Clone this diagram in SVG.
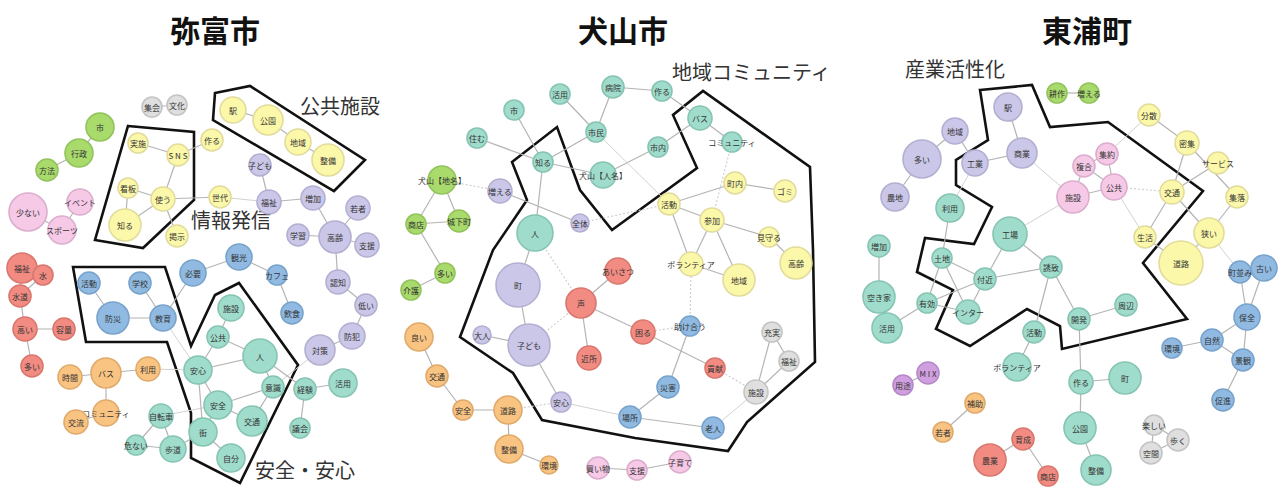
<svg xmlns="http://www.w3.org/2000/svg" width="1283" height="490" viewBox="0 0 1283 490">
<style>
.e{stroke:#b4b4b4;stroke-width:1.2;fill:none}
.f{stroke:#d2d2d2;stroke-width:1;fill:none}
.d{stroke:#cfcfcf;stroke-width:1.2;stroke-dasharray:2 2;fill:none}
.poly{fill:none;stroke:#111;stroke-width:2.6;stroke-linejoin:miter}
circle{stroke-width:1.6}
.y{fill:#fcf8a9;stroke:#e2dc9c}
.p{fill:#cbc7e8;stroke:#b3afd2}
.g{fill:#a9da6c;stroke:#93c35c}
.k{fill:#f6c9e7;stroke:#dcaecd}
.r{fill:#f28c82;stroke:#d9776e}
.b{fill:#90bae2;stroke:#78a3cc}
.o{fill:#f9c382;stroke:#e0aa6c}
.t{fill:#a0dccb;stroke:#86c4b3}
.gr{fill:#dfdfdf;stroke:#c4c4c4}
.v{fill:#d09fe0;stroke:#b789c8}
text{font-family:"Noto Sans CJK JP","Noto Sans",sans-serif}
.l{font-size:8px;fill:#333;text-anchor:middle;dominant-baseline:central}
.title{font-size:30px;font-weight:bold;fill:#111;text-anchor:middle}
.cap{font-size:20px;fill:#333}
</style>
<rect width="1283" height="490" fill="#fff"/>
<g id="titles">
<text class="title" x="215" y="42">弥富市</text>
<text class="title" x="623" y="42">犬山市</text>
<text class="title" x="1087" y="42">東浦町</text>
</g>
<g id="captions">
<text class="cap" x="300" y="114">公共施設</text>
<text class="cap" x="191" y="228">情報発信</text>
<text class="cap" x="255" y="478">安全・安心</text>
<text class="cap" x="672" y="80">地域コミュニティ</text>
<text class="cap" x="905" y="77">産業活性化</text>
</g>
<g id="regions">
<polygon class="poly" points="128,126 194,132 194,200 143,248 95,240"/>
<polygon class="poly" points="215,93 250,86 365,160 334,191 213,120"/>
<polygon class="poly" points="73,267 165,267 191,346 215,295 239,283 298,365 240,483 191,458 191,413 167,342 86,342"/>
<polygon class="poly" points="512,162 557,127 580,190 612,230 697,168 673,115 703,91 810,167 813,250 815,362 747,422 728,451 635,438 542,420 513,373 460,337 493,250 527,200"/>
<polygon class="poly" points="980,90 1032,85 1050,127 1108,122 1203,191 1143,263 1187,319 1062,349 1060,326 1027,309 970,346 936,329 953,290 917,272 925,238 974,244 992,207 956,185 956,160 988,140"/>
</g>
<g id="connectors">
<line class="e" x1="152" y1="107" x2="177" y2="105"/>
<line class="e" x1="100" y1="127" x2="79" y2="153"/>
<line class="e" x1="79" y1="153" x2="47" y2="170"/>
<line class="e" x1="28" y1="212" x2="62" y2="230"/>
<line class="e" x1="80" y1="202" x2="62" y2="230"/>
<line class="e" x1="138" y1="143" x2="178" y2="155"/>
<line class="e" x1="178" y1="155" x2="212" y2="140"/>
<line class="e" x1="178" y1="155" x2="163" y2="199"/>
<line class="e" x1="128" y1="188" x2="163" y2="199"/>
<line class="e" x1="128" y1="188" x2="125" y2="225"/>
<line class="e" x1="163" y1="199" x2="125" y2="225"/>
<line class="e" x1="163" y1="199" x2="177" y2="236"/>
<line class="e" x1="163" y1="199" x2="220" y2="197"/>
<line class="e" x1="233" y1="110" x2="268" y2="120"/>
<line class="e" x1="268" y1="120" x2="298" y2="142"/>
<line class="e" x1="298" y1="142" x2="328" y2="160"/>
<line class="e" x1="260" y1="165" x2="269" y2="202"/>
<line class="f" x1="220" y1="197" x2="269" y2="202"/>
<line class="e" x1="269" y1="202" x2="313" y2="198"/>
<line class="e" x1="313" y1="198" x2="335" y2="237"/>
<line class="e" x1="358" y1="208" x2="335" y2="237"/>
<line class="e" x1="298" y1="235" x2="335" y2="237"/>
<line class="e" x1="335" y1="237" x2="367" y2="245"/>
<line class="e" x1="335" y1="237" x2="338" y2="282"/>
<line class="e" x1="338" y1="282" x2="366" y2="305"/>
<line class="e" x1="366" y1="305" x2="352" y2="336"/>
<line class="e" x1="352" y1="336" x2="320" y2="350"/>
<line class="f" x1="320" y1="350" x2="273" y2="387"/>
<line class="e" x1="22" y1="268" x2="43" y2="275"/>
<line class="e" x1="43" y1="275" x2="20" y2="296"/>
<line class="e" x1="22" y1="268" x2="20" y2="296"/>
<line class="e" x1="20" y1="296" x2="25" y2="329"/>
<line class="e" x1="25" y1="329" x2="64" y2="329"/>
<line class="e" x1="25" y1="329" x2="32" y2="366"/>
<line class="e" x1="89" y1="283" x2="113" y2="318"/>
<line class="e" x1="140" y1="283" x2="163" y2="318"/>
<line class="e" x1="113" y1="318" x2="163" y2="318"/>
<line class="e" x1="163" y1="318" x2="193" y2="273"/>
<line class="e" x1="193" y1="273" x2="239" y2="257"/>
<line class="e" x1="239" y1="257" x2="277" y2="275"/>
<line class="e" x1="277" y1="275" x2="292" y2="313"/>
<line class="f" x1="163" y1="318" x2="198" y2="370"/>
<line class="e" x1="70" y1="377" x2="106" y2="373"/>
<line class="e" x1="106" y1="373" x2="148" y2="369"/>
<line class="e" x1="106" y1="373" x2="106" y2="413"/>
<line class="e" x1="106" y1="413" x2="76" y2="422"/>
<line class="f" x1="148" y1="369" x2="198" y2="370"/>
<line class="e" x1="161" y1="416" x2="136" y2="445"/>
<line class="e" x1="161" y1="416" x2="173" y2="449"/>
<line class="e" x1="136" y1="445" x2="173" y2="449"/>
<line class="f" x1="161" y1="416" x2="218" y2="405"/>
<line class="e" x1="173" y1="449" x2="203" y2="432"/>
<line class="e" x1="198" y1="370" x2="218" y2="337"/>
<line class="e" x1="231" y1="308" x2="218" y2="337"/>
<line class="e" x1="218" y1="337" x2="260" y2="356"/>
<line class="e" x1="198" y1="370" x2="260" y2="356"/>
<line class="e" x1="198" y1="370" x2="218" y2="405"/>
<line class="e" x1="198" y1="370" x2="203" y2="432"/>
<line class="e" x1="218" y1="405" x2="203" y2="432"/>
<line class="e" x1="203" y1="432" x2="231" y2="458"/>
<line class="e" x1="218" y1="405" x2="252" y2="421"/>
<line class="e" x1="218" y1="405" x2="273" y2="387"/>
<line class="e" x1="260" y1="356" x2="273" y2="387"/>
<line class="e" x1="273" y1="387" x2="252" y2="421"/>
<line class="e" x1="260" y1="356" x2="305" y2="389"/>
<line class="e" x1="305" y1="389" x2="343" y2="383"/>
<line class="e" x1="305" y1="389" x2="300" y2="428"/>
<line class="e" x1="560" y1="94" x2="596" y2="132"/>
<line class="e" x1="613" y1="87" x2="596" y2="132"/>
<line class="e" x1="613" y1="87" x2="662" y2="91"/>
<line class="e" x1="662" y1="91" x2="700" y2="118"/>
<line class="e" x1="700" y1="118" x2="658" y2="147"/>
<line class="e" x1="700" y1="118" x2="732" y2="142"/>
<line class="e" x1="658" y1="147" x2="603" y2="175"/>
<line class="e" x1="596" y1="132" x2="543" y2="162"/>
<line class="e" x1="514" y1="110" x2="543" y2="162"/>
<line class="e" x1="477" y1="138" x2="543" y2="162"/>
<line class="e" x1="543" y1="162" x2="603" y2="175"/>
<line class="e" x1="543" y1="162" x2="535" y2="233"/>
<line class="f" x1="596" y1="132" x2="669" y2="204"/>
<line class="d" x1="732" y1="142" x2="712" y2="220"/>
<line class="e" x1="735" y1="183" x2="785" y2="191"/>
<line class="e" x1="735" y1="183" x2="669" y2="204"/>
<line class="e" x1="669" y1="204" x2="712" y2="220"/>
<line class="e" x1="712" y1="220" x2="769" y2="237"/>
<line class="e" x1="769" y1="237" x2="796" y2="263"/>
<line class="e" x1="669" y1="204" x2="691" y2="264"/>
<line class="e" x1="712" y1="220" x2="691" y2="264"/>
<line class="e" x1="712" y1="220" x2="739" y2="280"/>
<line class="e" x1="691" y1="264" x2="739" y2="280"/>
<line class="d" x1="691" y1="264" x2="690" y2="326"/>
<line class="d" x1="442" y1="180" x2="500" y2="191"/>
<line class="e" x1="442" y1="180" x2="459" y2="221"/>
<line class="e" x1="442" y1="180" x2="416" y2="224"/>
<line class="e" x1="416" y1="224" x2="459" y2="221"/>
<line class="e" x1="416" y1="224" x2="445" y2="273"/>
<line class="e" x1="445" y1="273" x2="411" y2="290"/>
<line class="e" x1="500" y1="191" x2="580" y2="223"/>
<line class="d" x1="580" y1="223" x2="669" y2="204"/>
<line class="e" x1="535" y1="233" x2="518" y2="285"/>
<line class="e" x1="518" y1="285" x2="529" y2="345"/>
<line class="e" x1="482" y1="335" x2="529" y2="345"/>
<line class="e" x1="529" y1="345" x2="561" y2="402"/>
<line class="d" x1="529" y1="345" x2="581" y2="303"/>
<line class="d" x1="535" y1="233" x2="581" y2="303"/>
<line class="e" x1="618" y1="271" x2="581" y2="303"/>
<line class="e" x1="581" y1="303" x2="589" y2="358"/>
<line class="e" x1="581" y1="303" x2="643" y2="332"/>
<line class="e" x1="643" y1="332" x2="715" y2="368"/>
<line class="d" x1="643" y1="332" x2="690" y2="326"/>
<line class="d" x1="715" y1="368" x2="756" y2="392"/>
<line class="e" x1="690" y1="326" x2="668" y2="387"/>
<line class="e" x1="668" y1="387" x2="630" y2="417"/>
<line class="e" x1="630" y1="417" x2="713" y2="428"/>
<line class="f" x1="713" y1="428" x2="756" y2="392"/>
<line class="e" x1="756" y1="392" x2="772" y2="332"/>
<line class="e" x1="772" y1="332" x2="789" y2="361"/>
<line class="e" x1="789" y1="361" x2="756" y2="392"/>
<line class="f" x1="561" y1="402" x2="630" y2="417"/>
<line class="e" x1="419" y1="337" x2="437" y2="376"/>
<line class="e" x1="437" y1="376" x2="463" y2="410"/>
<line class="e" x1="463" y1="410" x2="508" y2="410"/>
<line class="e" x1="508" y1="410" x2="509" y2="449"/>
<line class="e" x1="509" y1="449" x2="549" y2="465"/>
<line class="d" x1="508" y1="410" x2="561" y2="402"/>
<line class="e" x1="598" y1="468" x2="637" y2="470"/>
<line class="e" x1="637" y1="470" x2="680" y2="462"/>
<line class="e" x1="1057" y1="93" x2="1089" y2="93"/>
<line class="e" x1="1008" y1="107" x2="1022" y2="153"/>
<line class="e" x1="1022" y1="153" x2="975" y2="163"/>
<line class="e" x1="955" y1="131" x2="975" y2="163"/>
<line class="e" x1="955" y1="131" x2="922" y2="159"/>
<line class="e" x1="922" y1="159" x2="895" y2="197"/>
<line class="f" x1="975" y1="163" x2="950" y2="208"/>
<line class="e" x1="950" y1="208" x2="942" y2="258"/>
<line class="f" x1="1022" y1="153" x2="1073" y2="197"/>
<line class="f" x1="1010" y1="234" x2="1073" y2="197"/>
<line class="e" x1="1073" y1="197" x2="1084" y2="166"/>
<line class="e" x1="1073" y1="197" x2="1114" y2="187"/>
<line class="e" x1="1084" y1="166" x2="1107" y2="154"/>
<line class="e" x1="1107" y1="154" x2="1114" y2="187"/>
<line class="e" x1="1084" y1="166" x2="1114" y2="187"/>
<line class="f" x1="1149" y1="115" x2="1107" y2="154"/>
<line class="e" x1="1149" y1="115" x2="1187" y2="143"/>
<line class="e" x1="1187" y1="143" x2="1172" y2="192"/>
<line class="e" x1="1187" y1="143" x2="1237" y2="197"/>
<line class="e" x1="1218" y1="163" x2="1172" y2="192"/>
<line class="d" x1="1114" y1="187" x2="1172" y2="192"/>
<line class="f" x1="1114" y1="187" x2="1145" y2="237"/>
<line class="e" x1="1172" y1="192" x2="1145" y2="237"/>
<line class="e" x1="1172" y1="192" x2="1209" y2="233"/>
<line class="e" x1="1237" y1="197" x2="1209" y2="233"/>
<line class="e" x1="1209" y1="233" x2="1181" y2="263"/>
<line class="e" x1="1145" y1="237" x2="1181" y2="263"/>
<line class="f" x1="1209" y1="233" x2="1240" y2="272"/>
<line class="e" x1="1010" y1="234" x2="985" y2="279"/>
<line class="e" x1="1010" y1="234" x2="1051" y2="267"/>
<line class="e" x1="1051" y1="267" x2="985" y2="279"/>
<line class="e" x1="985" y1="279" x2="942" y2="258"/>
<line class="e" x1="985" y1="279" x2="968" y2="312"/>
<line class="e" x1="985" y1="279" x2="927" y2="303"/>
<line class="e" x1="942" y1="258" x2="927" y2="303"/>
<line class="e" x1="942" y1="258" x2="968" y2="312"/>
<line class="e" x1="927" y1="303" x2="968" y2="312"/>
<line class="e" x1="927" y1="303" x2="887" y2="328"/>
<line class="e" x1="879" y1="246" x2="879" y2="297"/>
<line class="e" x1="1051" y1="267" x2="1034" y2="332"/>
<line class="e" x1="1051" y1="267" x2="1079" y2="319"/>
<line class="e" x1="1034" y1="332" x2="1017" y2="367"/>
<line class="e" x1="1079" y1="319" x2="1126" y2="305"/>
<line class="e" x1="1079" y1="319" x2="1081" y2="382"/>
<line class="e" x1="1081" y1="382" x2="1125" y2="378"/>
<line class="e" x1="1081" y1="382" x2="1080" y2="428"/>
<line class="e" x1="1080" y1="428" x2="1096" y2="470"/>
<line class="e" x1="1240" y1="272" x2="1247" y2="317"/>
<line class="e" x1="1264" y1="268" x2="1247" y2="317"/>
<line class="e" x1="1247" y1="317" x2="1212" y2="340"/>
<line class="e" x1="1247" y1="317" x2="1243" y2="360"/>
<line class="e" x1="1212" y1="340" x2="1243" y2="360"/>
<line class="e" x1="1212" y1="340" x2="1172" y2="348"/>
<line class="e" x1="1243" y1="360" x2="1223" y2="400"/>
<line class="e" x1="1154" y1="425" x2="1178" y2="440"/>
<line class="e" x1="1154" y1="425" x2="1151" y2="453"/>
<line class="e" x1="1151" y1="453" x2="1178" y2="440"/>
<line class="e" x1="928" y1="373" x2="903" y2="385"/>
<line class="e" x1="975" y1="403" x2="943" y2="432"/>
<line class="e" x1="1023" y1="439" x2="990" y2="460"/>
<line class="e" x1="1023" y1="439" x2="1048" y2="476"/>
</g>
<g id="nodes-yatomi">
<g id="a-shukai"><circle class="gr" cx="152" cy="107" r="10"/><text class="l" x="152" y="107">集会</text></g>
<g id="a-bunka"><circle class="gr" cx="177" cy="105" r="10"/><text class="l" x="177" y="105">文化</text></g>
<g id="a-shi"><circle class="g" cx="100" cy="127" r="14"/><text class="l" x="100" y="127">市</text></g>
<g id="a-gyosei"><circle class="g" cx="79" cy="153" r="14"/><text class="l" x="79" y="153">行政</text></g>
<g id="a-hoho"><circle class="g" cx="47" cy="170" r="11"/><text class="l" x="47" y="170">方法</text></g>
<g id="a-sukunai"><circle class="k" cx="28" cy="212" r="19"/><text class="l" x="28" y="212">少ない</text></g>
<g id="a-event"><circle class="k" cx="80" cy="202" r="13"/><text class="l" x="80" y="202">イベント</text></g>
<g id="a-sports"><circle class="k" cx="62" cy="230" r="14"/><text class="l" x="62" y="230">スポーツ</text></g>
<g id="a-jisshi"><circle class="y" cx="138" cy="143" r="10"/><text class="l" x="138" y="143">実施</text></g>
<g id="a-sns"><circle class="y" cx="178" cy="155" r="11"/><text class="l" x="178" y="155">S N S</text></g>
<g id="a-kanban"><circle class="y" cx="128" cy="188" r="10"/><text class="l" x="128" y="188">看板</text></g>
<g id="a-tsukau"><circle class="y" cx="163" cy="199" r="12"/><text class="l" x="163" y="199">使う</text></g>
<g id="a-shiru"><circle class="y" cx="125" cy="225" r="16"/><text class="l" x="125" y="225">知る</text></g>
<g id="a-keiji"><circle class="y" cx="177" cy="236" r="11"/><text class="l" x="177" y="236">掲示</text></g>
<g id="a-tsukuru"><circle class="y" cx="212" cy="140" r="11"/><text class="l" x="212" y="140">作る</text></g>
<g id="a-eki"><circle class="y" cx="233" cy="110" r="13"/><text class="l" x="233" y="110">駅</text></g>
<g id="a-koen"><circle class="y" cx="268" cy="120" r="15"/><text class="l" x="268" y="120">公園</text></g>
<g id="a-chiiki"><circle class="y" cx="298" cy="142" r="13"/><text class="l" x="298" y="142">地域</text></g>
<g id="a-seibi"><circle class="y" cx="328" cy="160" r="16"/><text class="l" x="328" y="160">整備</text></g>
<g id="a-sedai"><circle class="y" cx="220" cy="197" r="11"/><text class="l" x="220" y="197">世代</text></g>
<g id="a-kodomo"><circle class="p" cx="260" cy="165" r="11"/><text class="l" x="260" y="165">子ども</text></g>
<g id="a-fukushi"><circle class="p" cx="269" cy="202" r="12"/><text class="l" x="269" y="202">福祉</text></g>
<g id="a-zouka"><circle class="p" cx="313" cy="198" r="12"/><text class="l" x="313" y="198">増加</text></g>
<g id="a-wakamono"><circle class="p" cx="358" cy="208" r="12"/><text class="l" x="358" y="208">若者</text></g>
<g id="a-gakushu"><circle class="p" cx="298" cy="235" r="11"/><text class="l" x="298" y="235">学習</text></g>
<g id="a-korei"><circle class="p" cx="335" cy="237" r="16"/><text class="l" x="335" y="237">高齢</text></g>
<g id="a-shien"><circle class="p" cx="367" cy="245" r="12"/><text class="l" x="367" y="245">支援</text></g>
<g id="a-ninchi"><circle class="p" cx="338" cy="282" r="12"/><text class="l" x="338" y="282">認知</text></g>
<g id="a-hikui"><circle class="p" cx="366" cy="305" r="11"/><text class="l" x="366" y="305">低い</text></g>
<g id="a-bohan"><circle class="p" cx="352" cy="336" r="13"/><text class="l" x="352" y="336">防犯</text></g>
<g id="a-taisaku"><circle class="p" cx="320" cy="350" r="15"/><text class="l" x="320" y="350">対策</text></g>
<g id="a-fukushi2"><circle class="r" cx="22" cy="268" r="15"/><text class="l" x="22" y="268">福祉</text></g>
<g id="a-mizu"><circle class="r" cx="43" cy="275" r="10"/><text class="l" x="43" y="275">水</text></g>
<g id="a-suido"><circle class="r" cx="20" cy="296" r="11"/><text class="l" x="20" y="296">水道</text></g>
<g id="a-takai"><circle class="r" cx="25" cy="329" r="12"/><text class="l" x="25" y="329">高い</text></g>
<g id="a-yoryo"><circle class="r" cx="64" cy="329" r="11"/><text class="l" x="64" y="329">容量</text></g>
<g id="a-oi"><circle class="r" cx="32" cy="366" r="11"/><text class="l" x="32" y="366">多い</text></g>
<g id="a-katsudo"><circle class="b" cx="89" cy="283" r="11"/><text class="l" x="89" y="283">活動</text></g>
<g id="a-gakko"><circle class="b" cx="140" cy="283" r="11"/><text class="l" x="140" y="283">学校</text></g>
<g id="a-bosai"><circle class="b" cx="113" cy="318" r="16"/><text class="l" x="113" y="318">防災</text></g>
<g id="a-kyoiku"><circle class="b" cx="163" cy="318" r="13"/><text class="l" x="163" y="318">教育</text></g>
<g id="a-hitsuyo"><circle class="b" cx="193" cy="273" r="13"/><text class="l" x="193" y="273">必要</text></g>
<g id="a-kanko"><circle class="b" cx="239" cy="257" r="13"/><text class="l" x="239" y="257">観光</text></g>
<g id="a-cafe"><circle class="b" cx="277" cy="275" r="10"/><text class="l" x="277" y="275">カフェ</text></g>
<g id="a-inshoku"><circle class="b" cx="292" cy="313" r="11"/><text class="l" x="292" y="313">飲食</text></g>
<g id="a-jikan"><circle class="o" cx="70" cy="377" r="12"/><text class="l" x="70" y="377">時間</text></g>
<g id="a-bus"><circle class="o" cx="106" cy="373" r="15"/><text class="l" x="106" y="373">バス</text></g>
<g id="a-riyo"><circle class="o" cx="148" cy="369" r="12"/><text class="l" x="148" y="369">利用</text></g>
<g id="a-comm"><circle class="o" cx="106" cy="413" r="13"/><text class="l" x="106" y="413">コミュニティ</text></g>
<g id="a-koryu"><circle class="o" cx="76" cy="422" r="12"/><text class="l" x="76" y="422">交流</text></g>
<g id="a-anshin"><circle class="t" cx="198" cy="370" r="14"/><text class="l" x="198" y="370">安心</text></g>
<g id="a-jitensha"><circle class="t" cx="161" cy="416" r="12"/><text class="l" x="161" y="416">自転車</text></g>
<g id="a-abunai"><circle class="t" cx="136" cy="445" r="10"/><text class="l" x="136" y="445">危ない</text></g>
<g id="a-hodo"><circle class="t" cx="173" cy="449" r="13"/><text class="l" x="173" y="449">歩道</text></g>
<g id="a-machi"><circle class="t" cx="203" cy="432" r="14"/><text class="l" x="203" y="432">街</text></g>
<g id="a-shisetsu"><circle class="t" cx="231" cy="308" r="13"/><text class="l" x="231" y="308">施設</text></g>
<g id="a-kokyo"><circle class="t" cx="218" cy="337" r="11"/><text class="l" x="218" y="337">公共</text></g>
<g id="a-hito"><circle class="t" cx="260" cy="356" r="17"/><text class="l" x="260" y="356">人</text></g>
<g id="a-ishiki"><circle class="t" cx="273" cy="387" r="11"/><text class="l" x="273" y="387">意識</text></g>
<g id="a-keiken"><circle class="t" cx="305" cy="389" r="11"/><text class="l" x="305" y="389">経験</text></g>
<g id="a-katsuyo"><circle class="t" cx="343" cy="383" r="14"/><text class="l" x="343" y="383">活用</text></g>
<g id="a-gikai"><circle class="t" cx="300" cy="428" r="10"/><text class="l" x="300" y="428">議会</text></g>
<g id="a-anzen"><circle class="t" cx="218" cy="405" r="14"/><text class="l" x="218" y="405">安全</text></g>
<g id="a-kotsu"><circle class="t" cx="252" cy="421" r="15"/><text class="l" x="252" y="421">交通</text></g>
<g id="a-jibun"><circle class="t" cx="231" cy="458" r="14"/><text class="l" x="231" y="458">自分</text></g>
</g>
<g id="nodes-inuyama">
<g id="b-katsuyo"><circle class="t" cx="560" cy="94" r="10"/><text class="l" x="560" y="94">活用</text></g>
<g id="b-byoin"><circle class="t" cx="613" cy="87" r="11"/><text class="l" x="613" y="87">病院</text></g>
<g id="b-tsukuru"><circle class="t" cx="662" cy="91" r="10"/><text class="l" x="662" y="91">作る</text></g>
<g id="b-shi"><circle class="t" cx="514" cy="110" r="10"/><text class="l" x="514" y="110">市</text></g>
<g id="b-sumu"><circle class="t" cx="477" cy="138" r="10"/><text class="l" x="477" y="138">住む</text></g>
<g id="b-shimin"><circle class="t" cx="596" cy="132" r="10"/><text class="l" x="596" y="132">市民</text></g>
<g id="b-shiru"><circle class="t" cx="543" cy="162" r="10"/><text class="l" x="543" y="162">知る</text></g>
<g id="b-jinmei"><circle class="t" cx="603" cy="175" r="13"/><text class="l" x="603" y="175">犬山【人名】</text></g>
<g id="b-bus"><circle class="t" cx="700" cy="118" r="12"/><text class="l" x="700" y="118">バス</text></g>
<g id="b-shinai"><circle class="t" cx="658" cy="147" r="10"/><text class="l" x="658" y="147">市内</text></g>
<g id="b-comm"><circle class="t" cx="732" cy="142" r="10"/><text class="l" x="732" y="142">コミュニティ</text></g>
<g id="b-chimei"><circle class="g" cx="442" cy="180" r="14"/><text class="l" x="442" y="180">犬山【地名】</text></g>
<g id="b-fueru"><circle class="p" cx="500" cy="191" r="12"/><text class="l" x="500" y="191">増える</text></g>
<g id="b-jokamachi"><circle class="g" cx="459" cy="221" r="11"/><text class="l" x="459" y="221">城下町</text></g>
<g id="b-shoten"><circle class="g" cx="416" cy="224" r="10"/><text class="l" x="416" y="224">商店</text></g>
<g id="b-oi"><circle class="g" cx="445" cy="273" r="10"/><text class="l" x="445" y="273">多い</text></g>
<g id="b-kaigo"><circle class="g" cx="411" cy="290" r="10"/><text class="l" x="411" y="290">介護</text></g>
<g id="b-zentai"><circle class="p" cx="580" cy="223" r="9"/><text class="l" x="580" y="223">全体</text></g>
<g id="b-hito"><circle class="t" cx="535" cy="233" r="18"/><text class="l" x="535" y="233">人</text></g>
<g id="b-chonai"><circle class="y" cx="735" cy="183" r="11"/><text class="l" x="735" y="183">町内</text></g>
<g id="b-gomi"><circle class="y" cx="785" cy="191" r="11"/><text class="l" x="785" y="191">ゴミ</text></g>
<g id="b-katsudo"><circle class="y" cx="669" cy="204" r="11"/><text class="l" x="669" y="204">活動</text></g>
<g id="b-sanka"><circle class="y" cx="712" cy="220" r="12"/><text class="l" x="712" y="220">参加</text></g>
<g id="b-mimamoru"><circle class="y" cx="769" cy="237" r="10"/><text class="l" x="769" y="237">見守る</text></g>
<g id="b-korei"><circle class="y" cx="796" cy="263" r="16"/><text class="l" x="796" y="263">高齢</text></g>
<g id="b-volunteer"><circle class="y" cx="691" cy="264" r="12"/><text class="l" x="691" y="264">ボランティア</text></g>
<g id="b-chiiki"><circle class="y" cx="739" cy="280" r="16"/><text class="l" x="739" y="280">地域</text></g>
<g id="b-machi"><circle class="p" cx="518" cy="285" r="22"/><text class="l" x="518" y="285">町</text></g>
<g id="b-aisatsu"><circle class="r" cx="618" cy="271" r="13"/><text class="l" x="618" y="271">あいさつ</text></g>
<g id="b-koe"><circle class="r" cx="581" cy="303" r="15"/><text class="l" x="581" y="303">声</text></g>
<g id="b-otona"><circle class="p" cx="482" cy="335" r="9"/><text class="l" x="482" y="335">大人</text></g>
<g id="b-kodomo"><circle class="p" cx="529" cy="345" r="21"/><text class="l" x="529" y="345">子ども</text></g>
<g id="b-kinjo"><circle class="r" cx="589" cy="358" r="12"/><text class="l" x="589" y="358">近所</text></g>
<g id="b-komaru"><circle class="r" cx="643" cy="332" r="12"/><text class="l" x="643" y="332">困る</text></g>
<g id="b-tasukeau"><circle class="b" cx="690" cy="326" r="10"/><text class="l" x="690" y="326">助け合う</text></g>
<g id="b-koken"><circle class="r" cx="715" cy="368" r="10"/><text class="l" x="715" y="368">貢献</text></g>
<g id="b-juujitsu"><circle class="gr" cx="772" cy="332" r="10"/><text class="l" x="772" y="332">充実</text></g>
<g id="b-fukushi"><circle class="gr" cx="789" cy="361" r="10"/><text class="l" x="789" y="361">福祉</text></g>
<g id="b-shisetsu"><circle class="gr" cx="756" cy="392" r="12"/><text class="l" x="756" y="392">施設</text></g>
<g id="b-saigai"><circle class="b" cx="668" cy="387" r="11"/><text class="l" x="668" y="387">災害</text></g>
<g id="b-basho"><circle class="b" cx="630" cy="417" r="11"/><text class="l" x="630" y="417">場所</text></g>
<g id="b-rojin"><circle class="b" cx="713" cy="428" r="11"/><text class="l" x="713" y="428">老人</text></g>
<g id="b-yoi"><circle class="o" cx="419" cy="337" r="14"/><text class="l" x="419" y="337">良い</text></g>
<g id="b-kotsu"><circle class="o" cx="437" cy="376" r="11"/><text class="l" x="437" y="376">交通</text></g>
<g id="b-anzen"><circle class="o" cx="463" cy="410" r="10"/><text class="l" x="463" y="410">安全</text></g>
<g id="b-doro"><circle class="o" cx="508" cy="410" r="14"/><text class="l" x="508" y="410">道路</text></g>
<g id="b-anshin"><circle class="p" cx="561" cy="402" r="10"/><text class="l" x="561" y="402">安心</text></g>
<g id="b-seibi"><circle class="o" cx="509" cy="449" r="14"/><text class="l" x="509" y="449">整備</text></g>
<g id="b-kankyo"><circle class="o" cx="549" cy="465" r="9"/><text class="l" x="549" y="465">環境</text></g>
<g id="b-kaimono"><circle class="k" cx="598" cy="468" r="11"/><text class="l" x="598" y="468">買い物</text></g>
<g id="b-shien"><circle class="k" cx="637" cy="470" r="10"/><text class="l" x="637" y="470">支援</text></g>
<g id="b-kosodate"><circle class="k" cx="680" cy="462" r="11"/><text class="l" x="680" y="462">子育て</text></g>
</g>
<g id="nodes-higashiura">
<g id="c-kosaku"><circle class="g" cx="1057" cy="93" r="10"/><text class="l" x="1057" y="93">耕作</text></g>
<g id="c-fueru"><circle class="g" cx="1089" cy="93" r="10"/><text class="l" x="1089" y="93">増える</text></g>
<g id="c-eki"><circle class="p" cx="1008" cy="107" r="14"/><text class="l" x="1008" y="107">駅</text></g>
<g id="c-chiiki"><circle class="p" cx="955" cy="131" r="13"/><text class="l" x="955" y="131">地域</text></g>
<g id="c-shogyo"><circle class="p" cx="1022" cy="153" r="15"/><text class="l" x="1022" y="153">商業</text></g>
<g id="c-oi"><circle class="p" cx="922" cy="159" r="19"/><text class="l" x="922" y="159">多い</text></g>
<g id="c-kogyo"><circle class="p" cx="975" cy="163" r="13"/><text class="l" x="975" y="163">工業</text></g>
<g id="c-nochi"><circle class="p" cx="895" cy="197" r="14"/><text class="l" x="895" y="197">農地</text></g>
<g id="c-riyo"><circle class="t" cx="950" cy="208" r="14"/><text class="l" x="950" y="208">利用</text></g>
<g id="c-kojo"><circle class="t" cx="1010" cy="234" r="17"/><text class="l" x="1010" y="234">工場</text></g>
<g id="c-zouka"><circle class="t" cx="879" cy="246" r="11"/><text class="l" x="879" y="246">増加</text></g>
<g id="c-bunsan"><circle class="y" cx="1149" cy="115" r="11"/><text class="l" x="1149" y="115">分散</text></g>
<g id="c-misshu"><circle class="y" cx="1187" cy="143" r="12"/><text class="l" x="1187" y="143">密集</text></g>
<g id="c-shuyaku"><circle class="k" cx="1107" cy="154" r="11"/><text class="l" x="1107" y="154">集約</text></g>
<g id="c-fukugo"><circle class="k" cx="1084" cy="166" r="11"/><text class="l" x="1084" y="166">複合</text></g>
<g id="c-service"><circle class="y" cx="1218" cy="163" r="11"/><text class="l" x="1218" y="163">サービス</text></g>
<g id="c-shisetsu"><circle class="k" cx="1073" cy="197" r="16"/><text class="l" x="1073" y="197">施設</text></g>
<g id="c-kokyo"><circle class="k" cx="1114" cy="187" r="13"/><text class="l" x="1114" y="187">公共</text></g>
<g id="c-kotsu"><circle class="y" cx="1172" cy="192" r="12"/><text class="l" x="1172" y="192">交通</text></g>
<g id="c-shuraku"><circle class="y" cx="1237" cy="197" r="11"/><text class="l" x="1237" y="197">集落</text></g>
<g id="c-seikatsu"><circle class="y" cx="1145" cy="237" r="11"/><text class="l" x="1145" y="237">生活</text></g>
<g id="c-semai"><circle class="y" cx="1209" cy="233" r="15"/><text class="l" x="1209" y="233">狭い</text></g>
<g id="c-doro"><circle class="y" cx="1181" cy="263" r="22"/><text class="l" x="1181" y="263">道路</text></g>
<g id="c-machinami"><circle class="b" cx="1240" cy="272" r="11"/><text class="l" x="1240" y="272">町並み</text></g>
<g id="c-furui"><circle class="b" cx="1264" cy="268" r="13"/><text class="l" x="1264" y="268">古い</text></g>
<g id="c-hozen"><circle class="b" cx="1247" cy="317" r="13"/><text class="l" x="1247" y="317">保全</text></g>
<g id="c-shizen"><circle class="b" cx="1212" cy="340" r="11"/><text class="l" x="1212" y="340">自然</text></g>
<g id="c-kankyo"><circle class="b" cx="1172" cy="348" r="10"/><text class="l" x="1172" y="348">環境</text></g>
<g id="c-keikan"><circle class="b" cx="1243" cy="360" r="11"/><text class="l" x="1243" y="360">景観</text></g>
<g id="c-sokushin"><circle class="b" cx="1223" cy="400" r="11"/><text class="l" x="1223" y="400">促進</text></g>
<g id="c-tochi"><circle class="t" cx="942" cy="258" r="10"/><text class="l" x="942" y="258">土地</text></g>
<g id="c-fukin"><circle class="t" cx="985" cy="279" r="11"/><text class="l" x="985" y="279">付近</text></g>
<g id="c-yuchi"><circle class="t" cx="1051" cy="267" r="11"/><text class="l" x="1051" y="267">誘致</text></g>
<g id="c-akiya"><circle class="t" cx="879" cy="297" r="16"/><text class="l" x="879" y="297">空き家</text></g>
<g id="c-yuko"><circle class="t" cx="927" cy="303" r="10"/><text class="l" x="927" y="303">有効</text></g>
<g id="c-inter"><circle class="t" cx="968" cy="312" r="12"/><text class="l" x="968" y="312">インター</text></g>
<g id="c-katsuyo"><circle class="t" cx="887" cy="328" r="15"/><text class="l" x="887" y="328">活用</text></g>
<g id="c-katsudo"><circle class="t" cx="1034" cy="332" r="11"/><text class="l" x="1034" y="332">活動</text></g>
<g id="c-volunteer"><circle class="t" cx="1017" cy="367" r="14"/><text class="l" x="1017" y="367">ボランティア</text></g>
<g id="c-kaihatsu"><circle class="t" cx="1079" cy="319" r="11"/><text class="l" x="1079" y="319">開発</text></g>
<g id="c-shuhen"><circle class="t" cx="1126" cy="305" r="11"/><text class="l" x="1126" y="305">周辺</text></g>
<g id="c-tsukuru"><circle class="t" cx="1081" cy="382" r="12"/><text class="l" x="1081" y="382">作る</text></g>
<g id="c-machi"><circle class="t" cx="1125" cy="378" r="16"/><text class="l" x="1125" y="378">町</text></g>
<g id="c-koen"><circle class="t" cx="1080" cy="428" r="16"/><text class="l" x="1080" y="428">公園</text></g>
<g id="c-seibi"><circle class="t" cx="1096" cy="470" r="15"/><text class="l" x="1096" y="470">整備</text></g>
<g id="c-tanoshii"><circle class="gr" cx="1154" cy="425" r="10"/><text class="l" x="1154" y="425">楽しい</text></g>
<g id="c-aruku"><circle class="gr" cx="1178" cy="440" r="11"/><text class="l" x="1178" y="440">歩く</text></g>
<g id="c-kukan"><circle class="gr" cx="1151" cy="453" r="11"/><text class="l" x="1151" y="453">空間</text></g>
<g id="c-mix"><circle class="v" cx="928" cy="373" r="11"/><text class="l" x="928" y="373">M I X</text></g>
<g id="c-yoto"><circle class="v" cx="903" cy="385" r="10"/><text class="l" x="903" y="385">用途</text></g>
<g id="c-hojo"><circle class="o" cx="975" cy="403" r="10"/><text class="l" x="975" y="403">補助</text></g>
<g id="c-wakamono"><circle class="o" cx="943" cy="432" r="10"/><text class="l" x="943" y="432">若者</text></g>
<g id="c-ikusei"><circle class="r" cx="1023" cy="439" r="11"/><text class="l" x="1023" y="439">育成</text></g>
<g id="c-nogyo"><circle class="r" cx="990" cy="460" r="16"/><text class="l" x="990" y="460">農業</text></g>
<g id="c-shoten"><circle class="r" cx="1048" cy="476" r="10"/><text class="l" x="1048" y="476">商店</text></g>
</g>
</svg>
